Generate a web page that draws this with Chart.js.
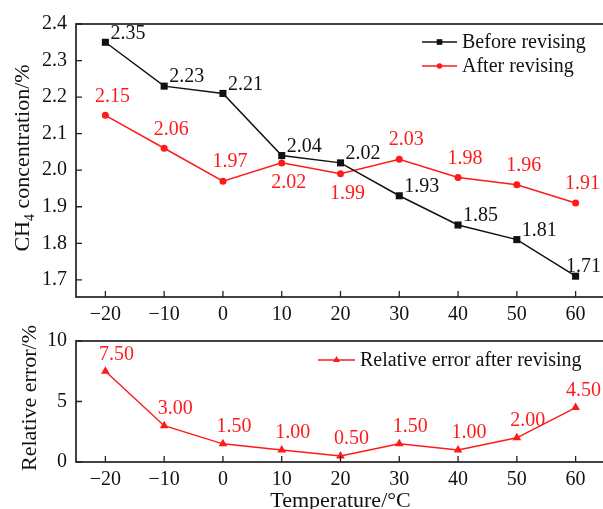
<!DOCTYPE html>
<html><head><meta charset="utf-8">
<script src="https://cdn.jsdelivr.net/npm/chart.js@4.4.0/dist/chart.umd.min.js"></script>
<style>
html,body{margin:0;padding:0;background:#fff;overflow:hidden;width:603px;height:509px;position:relative}
#w1{position:absolute;left:0;top:0;width:610px;height:330px}
#w2{position:absolute;left:0;top:315px;width:610px;height:194px}
</style></head><body>
<div id="w1"><canvas id="c1"></canvas></div>
<div id="w2"><canvas id="c2"></canvas></div>
<script>
// ---- data ----
const temperatures = ['\u221220', '\u221210', '0', '10', '20', '30', '40', '50', '60'];
const beforeRevising = [2.35, 2.23, 2.21, 2.04, 2.02, 1.93, 1.85, 1.81, 1.71];
const afterRevising = [2.15, 2.06, 1.97, 2.02, 1.99, 2.03, 1.98, 1.96, 1.91];
const relativeError = [7.50, 3.00, 1.50, 1.00, 0.50, 1.50, 1.00, 2.00, 4.50];
const concentrationTicks = [1.7, 1.8, 1.9, 2.0, 2.1, 2.2, 2.3, 2.4];
const errorTicks = [0, 5, 10];

const FONT = "'Liberation Serif','Times New Roman',serif";
const RED = '#ff1a1a';
const BLACK = '#111';
const AXIS = '#222';

function fontStr(sz){ return sz + 'px ' + FONT; }

// frame + inward ticks
const framePlugin = {
  id: 'frame',
  afterDraw(chart) {
    const {ctx, chartArea: a, scales: {x, y}} = chart;
    ctx.save();
    ctx.strokeStyle = AXIS;
    ctx.lineWidth = 1.7;
    ctx.strokeRect(a.left, a.top, a.right - a.left, a.bottom - a.top);
    ctx.lineWidth = 1.3;
    ctx.beginPath();
    x.ticks.forEach((t, i) => {
      const px = x.getPixelForTick(i);
      ctx.moveTo(px, a.bottom); ctx.lineTo(px, a.bottom - 6);
    });
    y.ticks.forEach((t, i) => {
      const py = y.getPixelForTick(i);
      ctx.moveTo(a.left, py); ctx.lineTo(a.left + 6, py);
    });
    ctx.stroke();
    ctx.restore();
  }
};

function drawMarker(ctx, style, x, y, r, color) {
  ctx.save();
  ctx.fillStyle = color; ctx.strokeStyle = color; ctx.lineWidth = 1;
  ctx.beginPath();
  if (style === 'rect') {
    const s = r * Math.SQRT1_2;
    ctx.rect(x - s, y - s, 2 * s, 2 * s);
  } else if (style === 'triangle') {
    ctx.moveTo(x, y - r);
    ctx.lineTo(x + r * 0.866, y + r * 0.5);
    ctx.lineTo(x - r * 0.866, y + r * 0.5);
    ctx.closePath();
  } else {
    ctx.arc(x, y, r, 0, Math.PI * 2);
  }
  ctx.fill();
  ctx.restore();
}

function legendPlugin(items) {
  return {
    id: 'customLegend',
    afterDraw(chart) {
      const ctx = chart.ctx;
      ctx.save();
      items.forEach(it => {
        const ds = chart.data.datasets[it.ds];
        ctx.strokeStyle = ds.borderColor;
        ctx.lineWidth = ds.borderWidth;
        ctx.beginPath();
        ctx.moveTo(it.x0, it.y); ctx.lineTo(it.x1, it.y);
        ctx.stroke();
        drawMarker(ctx, ds.pointStyle, (it.x0 + it.x1) / 2, it.y, ds.pointRadius * 0.8, ds.pointBackgroundColor);
        ctx.fillStyle = '#111';
        ctx.font = fontStr(20);
        ctx.textAlign = 'left';
        ctx.textBaseline = 'middle';
        ctx.fillText(ds.label, it.x1 + 5, it.y + 1);
      });
      ctx.restore();
    }
  };
}

function labelsPlugin(rules) {
  return {
    id: 'valueLabels',
    afterDatasetsDraw(chart) {
      const ctx = chart.ctx;
      ctx.save();
      ctx.font = fontStr(20);
      ctx.textBaseline = 'middle';
      chart.data.datasets.forEach((ds, di) => {
        const rule = rules[di];
        if (!rule) return;
        const meta = chart.getDatasetMeta(di);
        meta.data.forEach((pt, i) => {
          const txt = ds.data[i].toFixed(2);
          const w = ctx.measureText(txt).width;
          const p = rule(chart, i, pt);
          let left = p.align === 'left' ? pt.x + p.dx : pt.x + p.dx - w / 2;
          if (left + w > 601) left = 601 - w;
          ctx.fillStyle = ds.borderColor;
          ctx.textAlign = 'left';
          ctx.fillText(txt, left, pt.y + p.dy);
        });
      });
      ctx.restore();
    }
  };
}

function titlePlugin(drawFn) {
  return { id: 'titles', afterDraw(chart) { const ctx = chart.ctx; ctx.save(); drawFn(ctx, chart); ctx.restore(); } };
}

const commonX = {
  type: 'category',
  offset: true,
  grid: { display: false, drawTicks: false },
  border: { display: false },
  ticks: { color: '#111', font: { family: FONT, size: 20 }, padding: 6, maxRotation: 0, autoSkip: false }
};

function yFit(s) { s.width = 76; s.paddingTop = 0; s.paddingBottom = 0; }

// ---- top chart ----
new Chart(document.getElementById('c1'), {
  type: 'line',
  data: {
    labels: temperatures,
    datasets: [
      { label: 'Before revising', data: beforeRevising, borderColor: BLACK, backgroundColor: BLACK,
        pointBackgroundColor: BLACK, pointBorderColor: BLACK, borderWidth: 1.5,
        pointStyle: 'rect', pointRadius: 5, pointBorderWidth: 0, tension: 0 },
      { label: 'After revising', data: afterRevising, borderColor: RED, backgroundColor: RED,
        pointBackgroundColor: RED, pointBorderColor: RED, borderWidth: 1.5,
        pointStyle: 'circle', pointRadius: 3.5, pointBorderWidth: 0, tension: 0 }
    ]
  },
  options: {
    responsive: true, maintainAspectRatio: false, animation: false,
    layout: { padding: { top: 24, right: 4, left: 0, bottom: 0 } },
    plugins: { legend: { display: false }, tooltip: { enabled: false } },
    scales: {
      x: Object.assign({}, commonX, { afterFit(s) { s.height = 33; } }),
      y: {
        min: 1.653, max: 2.4,
        grid: { display: false, drawTicks: false },
        border: { display: false },
        afterBuildTicks(s) { s.ticks = concentrationTicks.map(v => ({ value: v })); },
        afterFit: yFit,
        ticks: { color: '#111', font: { family: FONT, size: 20 }, padding: 9,
          callback: v => Number(v).toFixed(1) }
      }
    }
  },
  plugins: [
    framePlugin,
    labelsPlugin([
      () => ({ align: 'left', dx: 5, dy: -9 }),
      (chart, i) => {
        const b = beforeRevising[i], a = afterRevising[i];
        const below = b > a && b - a < 0.1;
        return { align: 'center', dx: 7, dy: below ? 20 : -19 };
      }
    ]),
    legendPlugin([
      { ds: 0, x0: 422, x1: 457, y: 42 },
      { ds: 1, x0: 422, x1: 457, y: 66 }
    ]),
    titlePlugin((ctx) => {
      ctx.fillStyle = '#111';
      ctx.textBaseline = 'alphabetic';
      ctx.textAlign = 'left';
      const big = fontStr(22), small = fontStr(14);
      ctx.font = big; const w1 = ctx.measureText('CH').width;
      ctx.font = small; const w2 = ctx.measureText('4').width;
      ctx.font = big; const w3 = ctx.measureText(' concentration/%').width;
      const total = w1 + w2 + w3;
      ctx.translate(29, 158);
      ctx.rotate(-Math.PI / 2);
      let x = -total / 2;
      ctx.font = big; ctx.fillText('CH', x, 0); x += w1;
      ctx.font = small; ctx.fillText('4', x, 5); x += w2;
      ctx.font = big; ctx.fillText(' concentration/%', x, 0);
    })
  ]
});

// ---- bottom chart ----
new Chart(document.getElementById('c2'), {
  type: 'line',
  data: {
    labels: temperatures,
    datasets: [
      { label: 'Relative error after revising', data: relativeError, borderColor: RED, backgroundColor: RED,
        pointBackgroundColor: RED, pointBorderColor: RED, borderWidth: 1.5,
        pointStyle: 'triangle', pointRadius: 5, pointBorderWidth: 0, tension: 0 }
    ]
  },
  options: {
    responsive: true, maintainAspectRatio: false, animation: false,
    layout: { padding: { top: 26, right: 4, left: 0, bottom: 0 } },
    plugins: { legend: { display: false }, tooltip: { enabled: false } },
    scales: {
      x: Object.assign({}, commonX, { afterFit(s) { s.height = 47; } }),
      y: {
        min: 0, max: 10,
        grid: { display: false, drawTicks: false },
        border: { display: false },
        afterBuildTicks(s) { s.ticks = errorTicks.map(v => ({ value: v })); },
        afterFit: yFit,
        ticks: { color: '#111', font: { family: FONT, size: 20 }, padding: 9 }
      }
    }
  },
  plugins: [
    framePlugin,
    labelsPlugin([
      () => ({ align: 'center', dx: 11, dy: -17 })
    ]),
    legendPlugin([
      { ds: 0, x0: 318, x1: 355, y: 45 }
    ]),
    titlePlugin((ctx, chart) => {
      ctx.fillStyle = '#111';
      ctx.font = fontStr(22);
      ctx.textAlign = 'center';
      ctx.textBaseline = 'middle';
      const a = chart.chartArea;
      ctx.fillText('Temperature/\u00B0C', (a.left + a.right) / 2, 186);
      ctx.translate(30, 83);
      ctx.rotate(-Math.PI / 2);
      ctx.fillText('Relative error/%', 0, 0);
    })
  ]
});
</script>
</body></html>
